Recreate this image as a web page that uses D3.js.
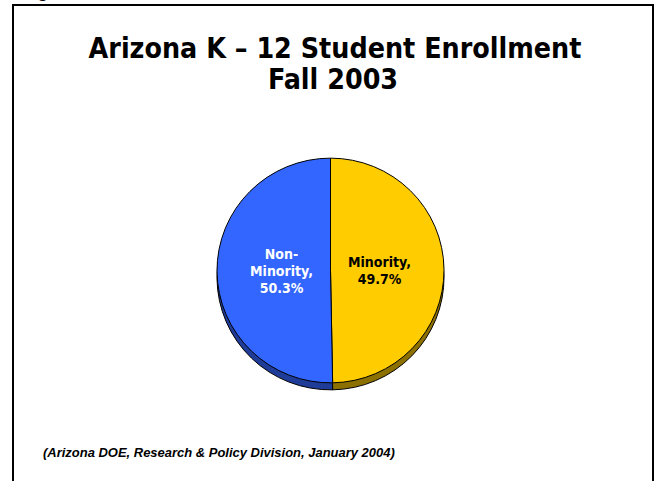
<!DOCTYPE html>
<html>
<head>
<meta charset="utf-8">
<script src="https://cdn.jsdelivr.net/npm/d3@7"></script>
<style>
  html, body { margin: 0; padding: 0; background: #fff; }
  svg { display: block; }
</style>
</head>
<body>
<script>
// Enrollment shares, Fall 2003
const categories = ["Minority", "Non-Minority"];
const shares = [49.7, 50.3];
const sliceColors = ["#FFCC00", "#3366FF"];
const sideColors = ["#8C7000", "#1F3C99"];
const labelColors = ["#000000", "#FFFFFF"];
const titleLines = ["Arizona K \u2013 12 Student Enrollment", "Fall 2003"];
const sourceNote = "(Arizona DOE, Research & Policy Division, January 2004)";

const W = 655, H = 481;
const svg = d3.select("body").append("svg").attr("width", W).attr("height", H);
const condensed = "'DejaVu Sans Condensed', 'DejaVu Sans', Verdana, sans-serif";

// slide frame
svg.append("rect")
  .attr("x", 13).attr("y", 5).attr("width", 640).attr("height", 520)
  .attr("fill", "none").attr("stroke", "#000").attr("stroke-width", 2);

// tail of the caption sitting above the frame
svg.append("text")
  .attr("x", 37).attr("y", -3)
  .attr("font-family", "Liberation Sans, Arial, sans-serif")
  .attr("font-size", 20)
  .text("g");

// scale a text element's font size so it spans the given width
function fitWidth(sel, width) {
  const size = +sel.attr("font-size");
  const w = sel.node().getComputedTextLength();
  sel.attr("font-size", size * width / w);
  return size * width / w;
}

// title
const t1 = svg.append("text")
  .attr("x", 335).attr("y", 58)
  .attr("text-anchor", "middle")
  .attr("font-family", condensed)
  .attr("font-stretch", "condensed")
  .attr("font-weight", "bold")
  .attr("font-size", 24)
  .text(titleLines[0]);
const titleSize = fitWidth(t1, 493);
svg.append("text")
  .attr("x", 333).attr("y", 89)
  .attr("text-anchor", "middle")
  .attr("font-family", condensed)
  .attr("font-stretch", "condensed")
  .attr("font-weight", "bold")
  .attr("font-size", titleSize)
  .text(titleLines[1]);

// pie
const data = categories.map((c, i) => ({ cat: c, value: shares[i], i }));
const pie = d3.pie().sort(null).value(d => d.value);
const arcs = pie(data);
const R = 113.5;
const cx = 330.5, cy = 270.5, depth = 7;
const arc = d3.arc().innerRadius(0).outerRadius(R);
const labelArc = d3.arc().innerRadius(49).outerRadius(49);

// extruded side of the disc
const sideLayer = svg.append("g").attr("transform", `translate(${cx},${cy + depth}) scale(1,0.99)`);
sideLayer.selectAll("path").data(arcs).join("path")
  .attr("d", arc)
  .attr("fill", d => sideColors[d.data.i])
  .attr("stroke", "#000").attr("stroke-width", 1)
  .attr("vector-effect", "non-scaling-stroke");

// top face
const faceLayer = svg.append("g").attr("transform", `translate(${cx},${cy}) scale(1,0.99)`);
faceLayer.selectAll("path").data(arcs).join("path")
  .attr("d", arc)
  .attr("fill", d => sliceColors[d.data.i])
  .attr("stroke", "#000").attr("stroke-width", 1)
  .attr("vector-effect", "non-scaling-stroke");

// slice labels
const lineH = 17;
const labels = svg.append("g").attr("transform", `translate(${cx},${cy})`);
arcs.forEach(d => {
  const lines = d.data.cat.replace("-", "-\n").split("\n");
  lines[lines.length - 1] += ",";
  lines.push(d.data.value.toFixed(1) + "%");
  const [lx, ly] = labelArc.centroid(d);
  const t = labels.append("text")
    .attr("text-anchor", "middle")
    .attr("font-family", condensed)
    .attr("font-stretch", "condensed")
    .attr("font-weight", "bold")
    .attr("font-size", 14)
    .attr("fill", labelColors[d.data.i]);
  const y0 = ly + 5 - (lines.length - 1) * lineH / 2;
  lines.forEach((s, k) => {
    t.append("tspan").attr("x", lx).attr("y", y0 + k * lineH).text(s);
  });
});

// source note
const note = svg.append("text")
  .attr("x", 43).attr("y", 457)
  .attr("font-family", "Liberation Sans, Arial, sans-serif")
  .attr("font-weight", "bold")
  .attr("font-style", "italic")
  .attr("font-size", 11)
  .text(sourceNote);
fitWidth(note, 352);
</script>
</body>
</html>
